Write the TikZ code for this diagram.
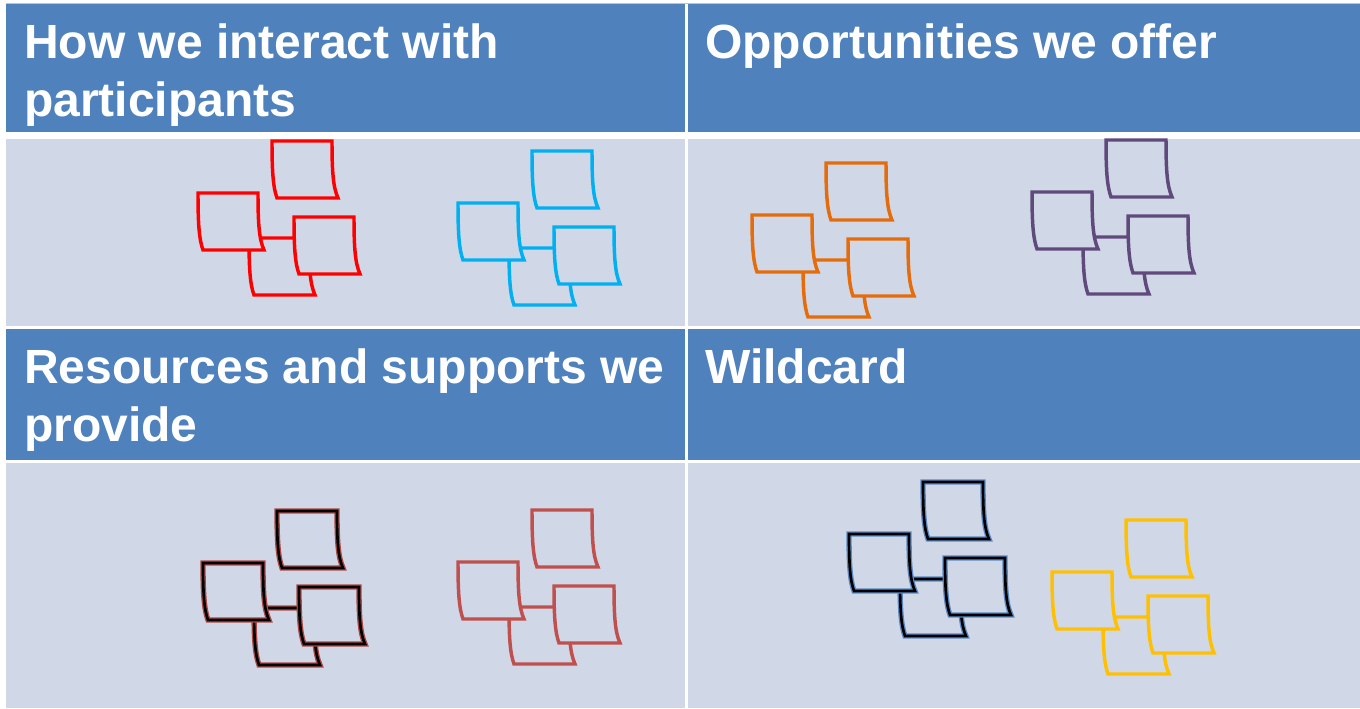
\documentclass[tikz,border=0pt]{standalone}
\usepackage{fontspec}
\setmainfont{Liberation Sans}
\begin{document}
\definecolor{headblue}{HTML}{4F81BD}
\definecolor{bodygray}{HTML}{D0D8E8}
\definecolor{noteorange}{HTML}{E46C0A}
\definecolor{notepurple}{HTML}{604A7B}
\definecolor{notecyan}{HTML}{00B0F0}
\definecolor{noteyellow}{HTML}{FFC000}
\definecolor{noteindian}{HTML}{C0504D}
\definecolor{haloRed}{HTML}{B04848}
\definecolor{haloBlue}{HTML}{5A8AC6}
% one curled sticky note, top-left corner at #2
\newcommand\stickynote[2]{%
  \path[#1,shift={#2}] (0,0) -- (60,0)
    .. controls (60,30) and (61,46) .. (66,57) -- (5,57)
    .. controls (1,46) and (0,30) .. (0,0) -- cycle;}
% a cluster of four notes, left note's top-left corner at (#2,#3)
\newcommand\notecluster[3]{%
  \begin{scope}[shift={(#2,#3)}]
    \stickynote{#1}{(51,45)}
    \stickynote{#1}{(0,0)}
    \stickynote{#1}{(96,24)}
    \stickynote{#1}{(74,-52)}
  \end{scope}}
\begin{tikzpicture}[x=0.75pt,y=-0.75pt,
  headcell/.style={fill=headblue},
  bodycell/.style={fill=bodygray},
  headtext/.style={anchor=base west,inner sep=0pt,text=white,
    font=\fontsize{36}{43.5}\selectfont\bfseries},
  plainnote/.style={fill=bodygray,draw=#1,line width=2.6pt,line join=miter},
  halonote/.style={fill=bodygray,draw=#1,line width=4pt,
    postaction={draw=black,line width=2pt}}]
\useasboundingbox (0,0) rectangle (1360,708);
\fill[white] (0,0) rectangle (1360,708);
\fill[headblue!45] (6,2.5) rectangle (1360,4);
% table cells
\fill[headcell] (6,4) rectangle (685,132);
\fill[headcell] (688,4) rectangle (1360,132);
\fill[bodycell] (6,139) rectangle (685,326);
\fill[bodycell] (688,139) rectangle (1360,326);
\fill[headcell] (6,329) rectangle (685,460);
\fill[headcell] (688,329) rectangle (1360,460);
\fill[bodycell] (6,463) rectangle (685,708);
\fill[bodycell] (688,463) rectangle (1360,708);
% headings
\node[headtext] (h1a) at (24,58) {How we interact with};
\node[headtext] (h1b) at (24,116) {participants};
\node[headtext] (h2) at (705,58) {Opportunities we offer};
\node[headtext] (h3a) at (24,383) {Resources and supports we};
\node[headtext] (h3b) at (24,441) {provide};
\node[headtext] (h4) at (705,383) {Wildcard};
% note clusters
\notecluster{plainnote=red}{198}{193}
\notecluster{plainnote=notecyan}{458}{203}
\notecluster{plainnote=noteorange}{752}{215}
\notecluster{plainnote=notepurple}{1032}{192}
\notecluster{halonote=haloRed}{203}{563}
\notecluster{plainnote=noteindian}{458}{562}
\notecluster{halonote=haloBlue}{849}{534}
\notecluster{plainnote=noteyellow}{1052}{572}
\end{tikzpicture}
\end{document}
